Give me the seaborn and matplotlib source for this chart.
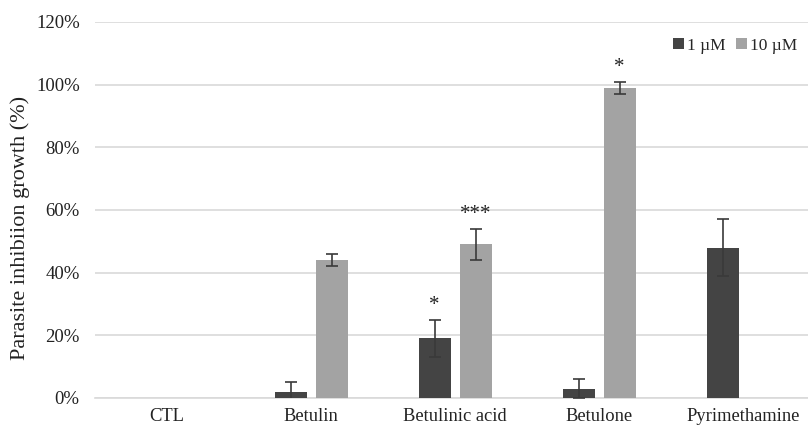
import numpy as np
import pandas as pd
import seaborn as sns
import matplotlib.pyplot as plt

# Values (percent)
compounds = ['CTL', 'Betulin', 'Betulinic acid', 'Betulone', 'Pyrimethamine']
conc_labels = ['1 \u00b5M', '10 \u00b5M']
inhib_1um = [0, 2, 19, 3, 48]
inhib_10um = [0, 44, 49, 99, 0]
err_1um = [0, 3, 6, 3, 9]
err_10um = [0, 2, 5, 2, 0]
stars_1um = ['', '', '*', '', '']
stars_10um = ['', '', '***', '*', '']
y_ticks = [0, 20, 40, 60, 80, 100, 120]

df = pd.DataFrame({
    'Compound': compounds * 2,
    'Concentration': [conc_labels[0]] * 5 + [conc_labels[1]] * 5,
    'Inhibition': inhib_1um + inhib_10um,
})
errs = err_1um + err_10um
stars = stars_1um + stars_10um

sns.set_style('white')
plt.rcParams['font.family'] = ['Liberation Serif', 'DejaVu Serif']

fig = plt.figure(figsize=(8.08, 4.25), dpi=100)
ax = fig.add_axes([95 / 808, 27 / 425, 1 - 95 / 808, 376 / 425])

colors = ['#444444', '#a3a3a3']
sns.barplot(data=df, x='Compound', y='Inhibition', hue='Concentration',
            palette=colors, width=0.57, gap=0.22, errorbar=None,
            linewidth=0, ax=ax, zorder=3)

# Error bars and significance stars on top of each bar
for patch, e, s in zip(ax.patches, errs, stars):
    xc = patch.get_x() + patch.get_width() / 2
    h = patch.get_height()
    if e > 0:
        ax.errorbar(xc, h, yerr=e, fmt='none', ecolor='#3a3a3a',
                    elinewidth=1.2, capsize=4.5, capthick=1.2, zorder=4)
    if s:
        ax.text(xc, h + e + 1.5, s, ha='center', va='bottom', fontsize=15,
                color='#222222')

ax.set_ylim(0, 120)
ax.set_xlim(-0.5, 4.45)
ax.set_yticks(y_ticks)
ax.set_yticklabels([f'{v}%' for v in y_ticks])
ax.yaxis.grid(True, color='#d9d9d9', linewidth=1.2, zorder=0)
ax.set_axisbelow(True)
for side in ['top', 'right', 'left']:
    ax.spines[side].set_visible(False)
ax.spines['bottom'].set_color('#d9d9d9')
ax.spines['bottom'].set_linewidth(1.2)
ax.tick_params(axis='y', length=0, labelsize=13.5, colors='#222222', pad=11)
ax.tick_params(axis='x', length=0, labelsize=13.3, colors='#222222', pad=7)
ax.set_xlabel('')
ax.set_ylabel('Parasite inhibiion growth (%)', fontsize=16, color='#222222')
ax.yaxis.set_label_coords(-0.091, 0.453)

leg = ax.legend(loc='upper right', bbox_to_anchor=(1.007, 1.0), ncol=2,
                frameon=False, fontsize=12.5, handlelength=0.6,
                handleheight=0.6, handletextpad=0.2, columnspacing=0.6)

fig.savefig('out.png', dpi=100)
